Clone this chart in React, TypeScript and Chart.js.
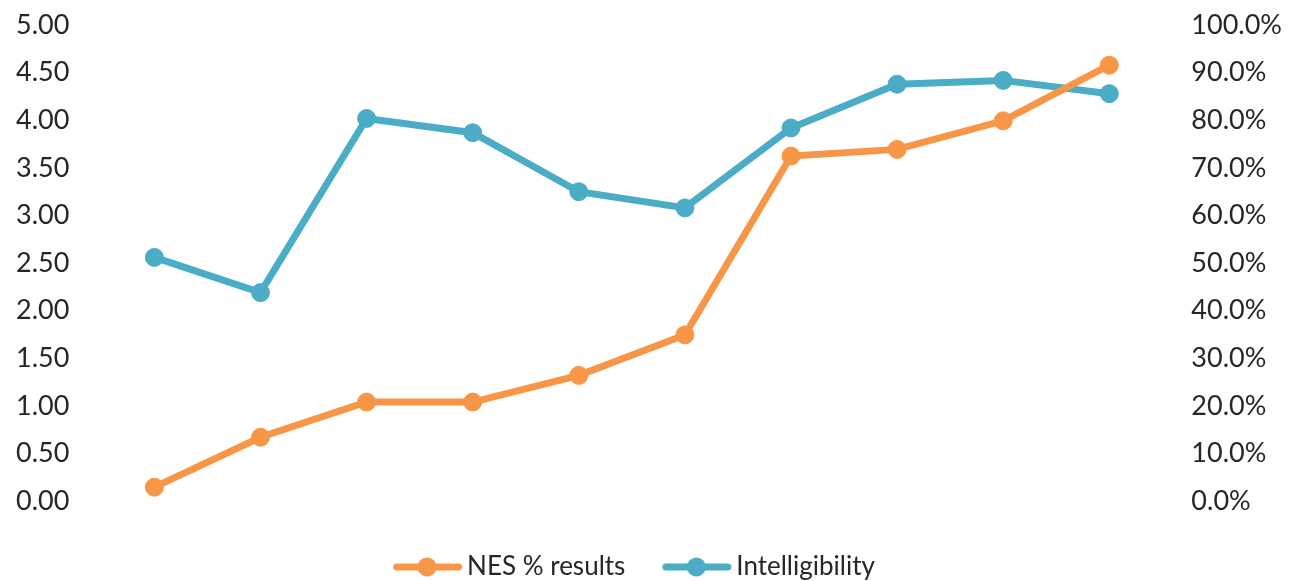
import React, { useEffect, useRef } from "react";
import { Chart, registerables } from "chart.js";

Chart.register(...registerables);

const categories = ["1", "2", "3", "4", "5", "6", "7", "8", "9", "10"];
const nesPercent = [2.9, 13.4, 20.8, 20.8, 26.4, 34.9, 72.5, 73.9, 79.9, 91.6];
const intelligibility = [2.56, 2.19, 4.02, 3.87, 3.25, 3.08, 3.92, 4.38, 4.42, 4.28];
const leftTicks = { min: 0, max: 5, step: 0.5 };
const rightTicks = { min: 0, max: 100, step: 10 };

const ORANGE = "#F79646";
const BLUE = "#4BACC6";
const TEXT = "#262626";
const FONT = "Lato";
const CANVAS_SHIFT = 15;

function legendImage(color: string): HTMLCanvasElement {
  const c = document.createElement("canvas");
  c.width = 80;
  c.height = 22;
  const ctx = c.getContext("2d")!;
  ctx.strokeStyle = color;
  ctx.lineWidth = 7;
  ctx.lineCap = "round";
  ctx.beginPath();
  ctx.moveTo(11.5, 11);
  ctx.lineTo(73.5, 11);
  ctx.stroke();
  ctx.fillStyle = color;
  ctx.beginPath();
  ctx.arc(42, 11, 9.5, 0, Math.PI * 2);
  ctx.fill();
  return c;
}

const legendShift = {
  id: "legendShift",
  afterLayout(chart: any) {
    const l = chart.legend;
    if (!l) return;
    l.left -= 12;
    l.right -= 12;
    l.top -= 14;
    l.bottom -= 14;
  },
};

export default function App() {
  const ref = useRef<HTMLCanvasElement>(null);
  useEffect(() => {
    if (!ref.current) return;
    const imgs = [legendImage(ORANGE), legendImage(BLUE)];
    const chart = new Chart(ref.current, {
      type: "line",
      plugins: [legendShift],
      data: {
        labels: categories,
        datasets: [
          {
            label: "NES % results",
            data: nesPercent,
            yAxisID: "y1",
            borderColor: ORANGE,
            backgroundColor: ORANGE,
            pointBackgroundColor: ORANGE,
            pointBorderColor: ORANGE,
            borderWidth: 7,
            pointRadius: 9,
            pointBorderWidth: 1,
            tension: 0,
          },
          {
            label: "Intelligibility",
            data: intelligibility,
            yAxisID: "y",
            borderColor: BLUE,
            backgroundColor: BLUE,
            pointBackgroundColor: BLUE,
            pointBorderColor: BLUE,
            borderWidth: 7,
            pointRadius: 9,
            pointBorderWidth: 1,
            tension: 0,
          },
        ],
      },
      options: {
        responsive: false,
        animation: false,
        layout: { padding: { left: -8, right: -10, top: -28, bottom: -23 } },
        plugins: {
          tooltip: { enabled: false },
          legend: {
            position: "bottom",
            labels: {
              usePointStyle: true,
              pointStyleWidth: 58,
              boxHeight: 20,
              padding: 40,
              color: TEXT,
              font: { family: FONT, size: 26 },
              generateLabels: (ch: any) => {
                const items = Chart.defaults.plugins.legend.labels.generateLabels(ch);
                return items.map((it: any, i: number) => ({ ...it, pointStyle: imgs[i] }));
              },
            },
          },
        },
        scales: {
          x: {
            display: true,
            offset: true,
            grid: { display: false },
            border: { display: false },
            ticks: { display: false },
            afterFit: (s: any) => {
              s.height = 27;
            },
          },
          y: {
            position: "left",
            min: leftTicks.min,
            max: leftTicks.max,
            grid: { display: false },
            border: { display: false },
            ticks: {
              stepSize: leftTicks.step,
              color: TEXT,
              padding: 24,
              font: { family: FONT, size: 27 },
              callback: (v: any) => Number(v).toFixed(2),
            },
          },
          y1: {
            position: "right",
            min: rightTicks.min,
            max: rightTicks.max,
            grid: { display: false },
            border: { display: false },
            ticks: {
              stepSize: rightTicks.step,
              color: TEXT,
              padding: 21,
              font: { family: FONT, size: 27 },
              callback: (v: any) => Number(v).toFixed(1) + "%",
            },
          },
        },
      },
    });
    return () => chart.destroy();
  }, []);
  return (
    <div
      style={{
        position: "absolute",
        left: 0,
        top: 0,
        width: 1293,
        height: 581,
        overflow: "hidden",
        background: "#fff",
      }}
    >
      <canvas
        ref={ref}
        width={1293}
        height={581 + CANVAS_SHIFT}
        style={{ display: "block", position: "absolute", left: 0, top: -CANVAS_SHIFT }}
      />
    </div>
  );
}
